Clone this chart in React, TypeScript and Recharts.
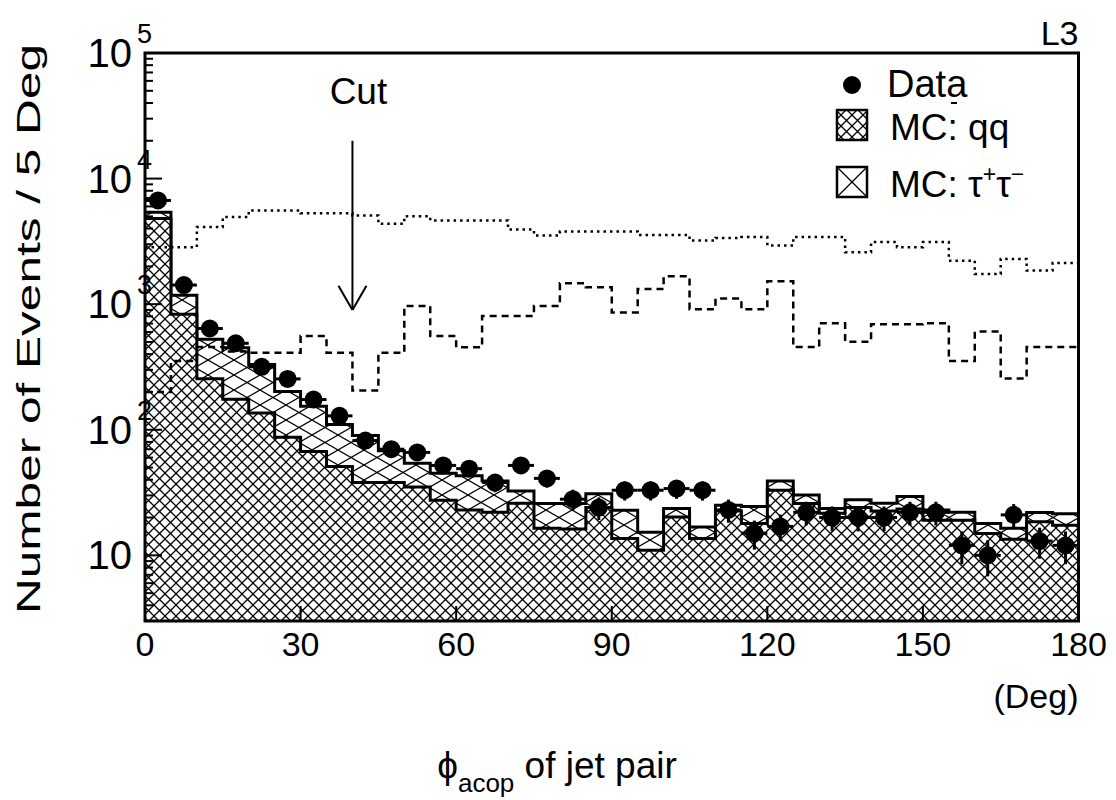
import React from 'react';
import {
  ComposedChart,
  Area,
  Line,
  Scatter,
  ErrorBar,
  XAxis,
  YAxis,
  ReferenceArea,
  ReferenceLine,
  Legend,
  Label,
} from 'recharts';

// ---------- data ----------
const binEdges = [0, 5, 10, 15, 20, 25, 30, 35, 40, 45, 50, 55, 60, 65, 70, 75, 80, 85, 90, 95, 100, 105, 110, 115, 120, 125, 130, 135, 140, 145, 150, 155, 160, 165, 170, 175, 180];
const binCenters = [2.5, 7.5, 12.5, 17.5, 22.5, 27.5, 32.5, 37.5, 42.5, 47.5, 52.5, 57.5, 62.5, 67.5, 72.5, 77.5, 82.5, 87.5, 92.5, 97.5, 102.5, 107.5, 112.5, 117.5, 122.5, 127.5, 132.5, 137.5, 142.5, 147.5, 152.5, 157.5, 162.5, 167.5, 172.5, 177.5];

const dataCounts = [6700, 1420, 640, 488, 317, 254, 174, 129, 82, 70, 66, 52, 49, 38, 52, 41, 28, 24, 33, 33, 34, 33, 23, 15, 17, 22, 20, 20, 20, 22, 22, 12, 10, 21, 13, 12];
const dataErrors = [82, 38, 25, 22, 18, 16, 13, 11, 9, 8.4, 8.1, 7.2, 7, 6.2, 7.2, 6.4, 5.3, 4.9, 5.7, 5.7, 5.8, 5.7, 4.8, 3.9, 4.1, 4.7, 4.5, 4.5, 4.5, 4.7, 4.7, 3.5, 3.2, 4.6, 3.6, 3.5];
const halfBinWidth = 2.5;

const mcQQ = [4800, 830, 255, 175, 136, 87, 67, 51, 38, 38, 35, 27.5, 23, 22, 26, 16.4, 16.2, 24, 13.6, 11, 20.2, 13.6, 22.5, 17.9, 33, 25.9, 21.6, 24, 22.5, 23.4, 19, 19, 14.9, 13.4, 18.5, 17.4];
const mcTauTau = [600, 350, 270, 275, 195, 115, 87, 59, 52, 30, 19, 17.5, 20, 17, 6.5, 9.5, 9.7, 7, 9.3, 4.3, 3.4, 3.2, 2.5, 6.6, 6, 4.3, 2, 3.7, 3.5, 6, 4, 3, 3, 3, 3.4, 4];

const dashedCurve = [200, 352, 455, 420, 410, 410, 557, 410, 205, 410, 969, 557, 453, 806, 806, 969, 1466, 1361, 859, 1318, 1666, 912, 1111, 912, 1520, 455, 705, 503, 692, 692, 705, 352, 605, 256, 455, 455];
const dottedCurve = [2840, 2840, 4110, 4940, 5580, 5580, 5300, 5300, 5090, 4365, 5010, 4640, 4640, 4640, 3930, 3520, 3790, 3790, 3790, 3560, 3560, 3210, 3360, 3420, 2930, 3420, 3420, 2590, 3120, 2840, 3120, 2220, 1740, 2290, 1850, 2130];

const xTicks = [0, 30, 60, 90, 120, 150, 180];
const yTicks = [
  3, 4, 5, 6, 7, 8, 9,
  10, 20, 30, 40, 50, 60, 70, 80, 90,
  100, 200, 300, 400, 500, 600, 700, 800, 900,
  1000, 2000, 3000, 4000, 5000, 6000, 7000, 8000, 9000,
  10000, 20000, 30000, 40000, 50000, 60000, 70000, 80000, 90000,
  100000,
];
const yMajorTicks = [10, 100, 1000, 10000, 100000];
const yMajorExponents = ['', '2', '3', '4', '5'];

const cutAngle = 40;
const cutArrowTop = 20000;
const cutArrowTip = 900;
const cutHeadBase = 1400;
const cutHeadHalf = 2.7;

// ---------- tables built from the arrays ----------
const histRows = binEdges.map((x, i) => {
  const j = Math.min(i, mcQQ.length - 1);
  return {
    x,
    qq: mcQQ[j],
    total: mcQQ[j] + mcTauTau[j],
    dashed: dashedCurve[j],
    dotted: dottedCurve[j],
  };
});

const pointRows = binCenters.map((x, i) => ({
  x,
  y: dataCounts[i],
  err: dataErrors[i],
  xerr: halfBinWidth,
}));

const FONT = '"Liberation Sans", Arial, Helvetica, sans-serif';

// ---------- custom pieces ----------
const YTick = (props: any) => {
  const { x, y, payload } = props;
  const v = payload.value;
  const mi = yMajorTicks.indexOf(v);
  const major = mi >= 0;
  return (
    <g>
      <line x1={x} x2={x + (major ? 17 : 8)} y1={y} y2={y} stroke="#000" strokeWidth={2} />
      {major && (
        <text x={x - 13} y={y + 14} textAnchor="end" fontSize={40} fill="#000">
          10
        </text>
      )}
      {major && yMajorExponents[mi] !== '' && (
        <text x={x - 8} y={y - 10} textAnchor="start" fontSize={27} fill="#000">
          {yMajorExponents[mi]}
        </text>
      )}
    </g>
  );
};

const XTick = (props: any) => {
  const { x, y, payload } = props;
  return (
    <g>
      <line x1={x} x2={x} y1={y} y2={y - 15} stroke="#000" strokeWidth={2} />
      <text x={x} y={y + 35} textAnchor="middle" fontSize={34} fill="#000">
        {payload.value}
      </text>
    </g>
  );
};

const XTitle = (props: any) => {
  const vb = props.viewBox;
  const right = vb.x + vb.width;
  return (
    <g>
      <text x={right} y={vb.y + 87} textAnchor="end" fontSize={34} fill="#000">
        (Deg)
      </text>
      <text x={vb.x + 412} y={vb.y + 157} textAnchor="middle" fontSize={37} fill="#000">
        ϕ
        <tspan dy={14} fontSize={26}>acop</tspan>
        <tspan dy={-14}> of jet pair</tspan>
      </text>
    </g>
  );
};

const YTitle = (props: any) => {
  const vb = props.viewBox;
  const cx = vb.x + 40;
  const cy = vb.y + vb.height / 2 - 8;
  return (
    <text
      x={cx}
      y={cy}
      transform={`rotate(-90 ${cx} ${cy})`}
      textAnchor="middle"
      fontSize={34}
      textLength={570}
      lengthAdjust="spacingAndGlyphs"
      fill="#000"
    >
      Number of Events / 5 Deg
    </text>
  );
};

const FrameLabel = (props: any) => {
  const vb = props.viewBox;
  return (
    <text x={vb.x + vb.width} y={vb.y - 8} textAnchor="end" fontSize={34} fill="#000">
      L3
    </text>
  );
};

const CutLabel = (props: any) => {
  const vb = props.viewBox;
  return (
    <text x={vb.x + 6} y={vb.y - 37} textAnchor="middle" fontSize={37} fill="#000">
      Cut
    </text>
  );
};

const DataDot = (props: any) => {
  const { cx, cy } = props;
  if (cx == null || cy == null) return null;
  return <circle cx={cx} cy={cy} r={9} fill="#000" />;
};

const LegendContent = () => (
  <svg width={270} height={150} style={{ display: 'block', overflow: 'visible', fontFamily: FONT }}>
    <circle cx={22} cy={25} r={9} fill="#000" />
    <text x={57} y={37} fontSize={38} fill="#000">Data</text>
    <rect x={7} y={50} width={30} height={30} fill="url(#qqHatch)" stroke="#000" strokeWidth={2.5} />
    <text x={60} y={80} fontSize={37} fill="#000">MC: qq</text>
    <line x1={121} x2={127} y1={43} y2={43} stroke="#000" strokeWidth={2} />
    <rect x={7} y={107} width={30} height={30} fill="#fff" stroke="#000" strokeWidth={2.5} />
    <path d="M7,107 L37,137 M7,137 L37,107" stroke="#000" strokeWidth={1.3} />
    <text x={60} y={137} fontSize={37} fill="#000">
      MC: τ
      <tspan dy={-15} fontSize={23}>+</tspan>
      <tspan dy={15} fontSize={37}>τ</tspan>
      <tspan dy={-15} fontSize={23}>−</tspan>
    </text>
  </svg>
);

export default function App() {
  return (
    <div style={{ width: 1116, height: 800, fontFamily: FONT, background: '#fff' }}>
      <style>{'body{margin:0;background:#fff;}'}</style>
      <ComposedChart
        width={1116}
        height={800}
        data={histRows}
        margin={{ top: 53, right: 37.5, bottom: 119, left: 0 }}
      >
        <defs>
          <pattern id="qqHatch" patternUnits="userSpaceOnUse" width={11} height={11}>
            <rect x={0} y={0} width={11} height={11} fill="#fff" />
            <path d="M-1,-1 L12,12 M12,-1 L-1,12" stroke="#000" strokeWidth={1.3} />
          </pattern>
          <pattern id="tauHatch" patternUnits="userSpaceOnUse" width={26} height={15}>
            <path d="M0,0 L26,15 M0,15 L26,0" stroke="#000" strokeWidth={1.2} />
          </pattern>
        </defs>

        <XAxis
          dataKey="x"
          type="number"
          domain={[0, 180]}
          ticks={xTicks}
          interval={0}
          tick={XTick}
          tickLine={false}
          tickSize={0}
          tickMargin={0}
          axisLine={false}
          height={60}
          allowDataOverflow
        >
          <Label content={XTitle} />
        </XAxis>
        <YAxis
          type="number"
          scale="log"
          domain={[3, 100000]}
          ticks={yTicks}
          interval={0}
          tick={YTick}
          tickLine={false}
          tickSize={0}
          tickMargin={0}
          axisLine={false}
          width={145}
          allowDataOverflow
        >
          <Label content={YTitle} />
        </YAxis>

        <Area
          type="stepAfter"
          dataKey="total"
          stroke="#000"
          strokeWidth={3}
          fill="url(#tauHatch)"
          fillOpacity={1}
          baseValue={3}
          dot={false}
          activeDot={false}
          isAnimationActive={false}
        />
        <Area
          type="stepAfter"
          dataKey="qq"
          stroke="#000"
          strokeWidth={3}
          fill="url(#qqHatch)"
          fillOpacity={1}
          baseValue={3}
          dot={false}
          activeDot={false}
          isAnimationActive={false}
        />
        <Line
          type="stepAfter"
          dataKey="dashed"
          stroke="#000"
          strokeWidth={2.5}
          strokeDasharray="7 5"
          dot={false}
          activeDot={false}
          isAnimationActive={false}
        />
        <Line
          type="stepAfter"
          dataKey="dotted"
          stroke="#000"
          strokeWidth={2.5}
          strokeDasharray="2.5 4"
          dot={false}
          activeDot={false}
          isAnimationActive={false}
        />
        <Scatter data={pointRows} dataKey="y" shape={DataDot} isAnimationActive={false}>
          <ErrorBar dataKey="err" direction="y" width={0} stroke="#000" strokeWidth={3} />
          <ErrorBar dataKey="xerr" direction="x" width={0} stroke="#000" strokeWidth={3} />
        </Scatter>

        <ReferenceLine
          segment={[{ x: cutAngle, y: cutArrowTop }, { x: cutAngle, y: cutArrowTip }]}
          stroke="#000"
          strokeWidth={2}
          label={CutLabel}
        />
        <ReferenceLine
          segment={[{ x: cutAngle - cutHeadHalf, y: cutHeadBase }, { x: cutAngle, y: cutArrowTip }]}
          stroke="#000"
          strokeWidth={2}
        />
        <ReferenceLine
          segment={[{ x: cutAngle + cutHeadHalf, y: cutHeadBase }, { x: cutAngle, y: cutArrowTip }]}
          stroke="#000"
          strokeWidth={2}
        />
        <ReferenceArea
          x1={0}
          x2={180}
          y1={3}
          y2={100000}
          fill="none"
          fillOpacity={0}
          stroke="#000"
          strokeWidth={3}
          label={FrameLabel}
        />
        <Legend
          layout="vertical"
          align="center"
          verticalAlign="middle"
          content={LegendContent}
          wrapperStyle={{ left: 830, top: 60, width: 270, height: 150 }}
        />
      </ComposedChart>
    </div>
  );
}
